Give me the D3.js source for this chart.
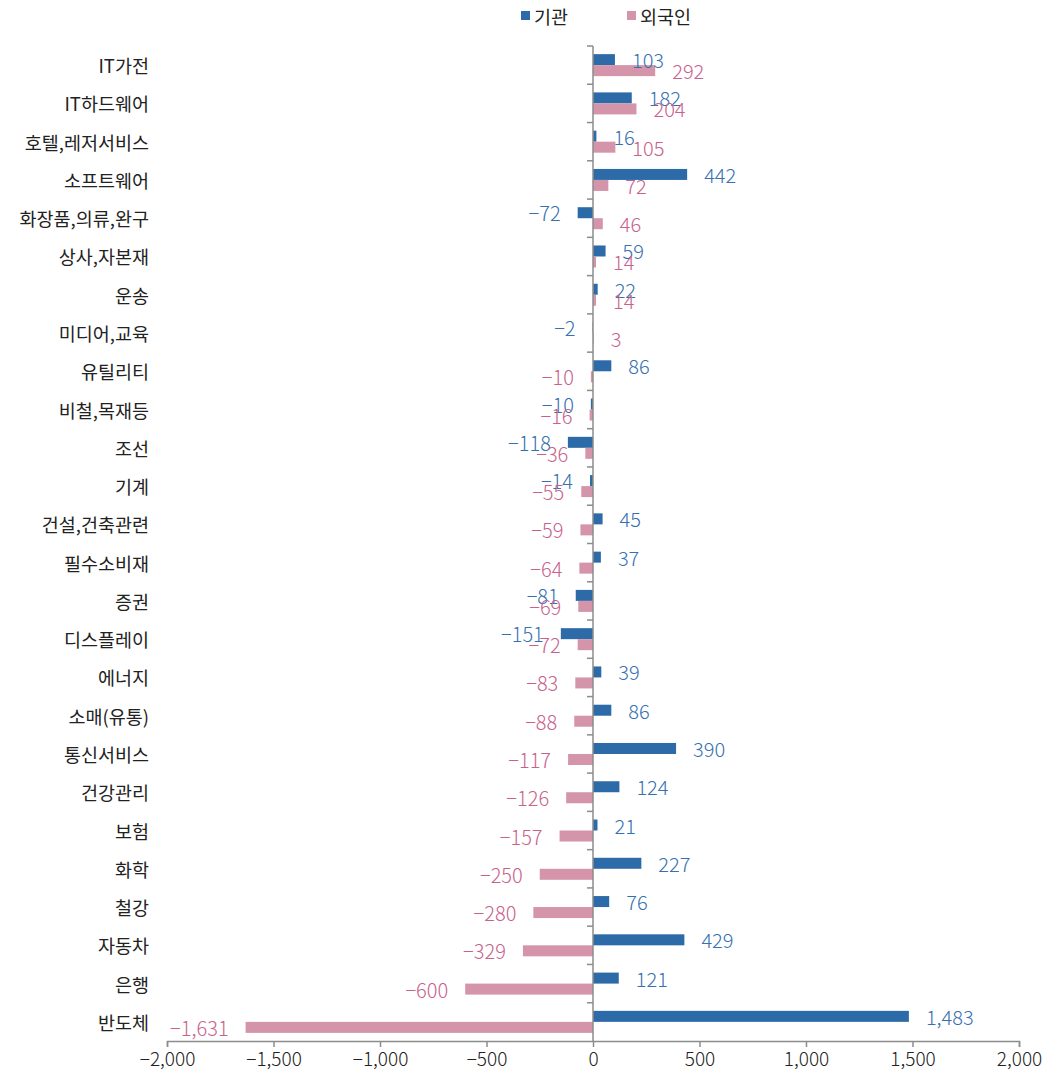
<!DOCTYPE html>
<html>
<head>
<meta charset="utf-8">
<script src="https://cdn.jsdelivr.net/npm/d3@7"></script>
<style>
  body { margin: 0; background: #fff; }
  svg text { font-family: "Noto Sans CJK KR", "Noto Sans", sans-serif; }
</style>
</head>
<body>
<div id="chart"></div>
<script>
// 업종별 순매수 - 기관 / 외국인
const categories = ['IT가전', 'IT하드웨어', '호텔,레저서비스', '소프트웨어', '화장품,의류,완구', '상사,자본재', '운송',
  '미디어,교육', '유틸리티', '비철,목재등', '조선', '기계', '건설,건축관련', '필수소비재', '증권', '디스플레이',
  '에너지', '소매(유통)', '통신서비스', '건강관리', '보험', '화학', '철강', '자동차', '은행', '반도체'];
const institution = [103, 182, 16, 442, -72, 59, 22, -2, 86, -10, -118, -14, 45, 37, -81, -151,
  39, 86, 390, 124, 21, 227, 76, 429, 121, 1483];
const foreign = [292, 204, 105, 72, 46, 14, 14, 3, -10, -16, -36, -55, -59, -64, -69, -72,
  -83, -88, -117, -126, -157, -250, -280, -329, -600, -1631];
const xTicks = [-2000, -1500, -1000, -500, 0, 500, 1000, 1500, 2000];

const series = [
  { name: '기관', values: institution, bar: '#2C6BA8', text: '#3570B0' },
  { name: '외국인', values: foreign, bar: '#D494A9', text: '#C8628C' }
];

const W = 1063, H = 1080;
const margin = { top: 46, right: 44, bottom: 39, left: 167 };
const width = W - margin.left - margin.right;
const height = H - margin.top - margin.bottom;

const svg = d3.select('#chart').append('svg')
  .attr('width', W).attr('height', H);
const g = svg.append('g').attr('transform', `translate(${margin.left},${margin.top})`);

const x = d3.scaleLinear().domain([-2000, 2000]).range([0, width]);
const y = d3.scaleBand().domain(categories).range([0, height]).paddingInner(0.425).paddingOuter(0.2125);
const sub = d3.scaleBand().domain([0, 1]).range([0, y.bandwidth()]);
const fmt = d3.format(',');

// 막대
series.forEach((s, si) => {
  g.selectAll('.bar' + si)
    .data(categories)
    .join('rect')
    .attr('class', 'bar' + si)
    .attr('x', (d, i) => x(Math.min(0, s.values[i])))
    .attr('y', d => y(d) + sub(si))
    .attr('width', (d, i) => Math.abs(x(s.values[i]) - x(0)))
    .attr('height', sub.bandwidth())
    .attr('fill', s.bar);
});

// 0 기준선 + 카테고리 눈금
const step = y.step();
g.append('line')
  .attr('x1', x(0)).attr('x2', x(0))
  .attr('y1', 0).attr('y2', height)
  .attr('stroke', '#8c8c8c').attr('stroke-width', 1.5);
g.selectAll('.ytick')
  .data(d3.range(categories.length))
  .join('line')
  .attr('class', 'ytick')
  .attr('x1', x(0) - 6).attr('x2', x(0))
  .attr('y1', i => i * step).attr('y2', i => i * step)
  .attr('stroke', '#8c8c8c').attr('stroke-width', 1.5);

// 카테고리 라벨
g.selectAll('.cat')
  .data(categories)
  .join('text')
  .attr('class', 'cat')
  .attr('x', -18)
  .attr('y', d => y(d) + y.bandwidth() / 2)
  .attr('text-anchor', 'end')
  .attr('dominant-baseline', 'central')
  .attr('font-size', '18.5px')
  .attr('fill', '#222')
  .text(d => d);

// 값 라벨
series.forEach((s, si) => {
  g.selectAll('.val' + si)
    .data(categories)
    .join('text')
    .attr('class', 'val' + si)
    .attr('x', (d, i) => x(s.values[i]) + (s.values[i] < 0 ? -17 : 17))
    .attr('y', d => y(d) + sub(si) + sub.bandwidth() / 2)
    .attr('text-anchor', (d, i) => s.values[i] < 0 ? 'end' : 'start')
    .attr('dominant-baseline', 'central')
    .attr('font-size', '20px')
    .attr('font-weight', 300)
    .attr('fill', s.text)
    .text((d, i) => fmt(s.values[i]));
});

// x축
const xAxis = g.append('g')
  .attr('transform', `translate(0,${height})`)
  .call(d3.axisBottom(x).tickValues(xTicks).tickFormat(fmt).tickSize(6).tickPadding(6));
xAxis.select('.domain').attr('stroke', '#8c8c8c').attr('stroke-width', 1.5);
xAxis.selectAll('.tick line').attr('stroke', '#8c8c8c').attr('stroke-width', 1.5);
xAxis.selectAll('.tick text')
  .attr('font-size', '19px')
  .attr('font-weight', 300)
  .attr('fill', '#222')
  .style('font-family', '"Noto Sans CJK KR", sans-serif');

// 범례
const legend = svg.append('g').attr('transform', 'translate(521,15)');
const legendX = [0, 106];
series.forEach((s, si) => {
  const lg = legend.append('g').attr('transform', `translate(${legendX[si]},0)`);
  lg.append('rect').attr('x', 0).attr('y', -4).attr('width', 9).attr('height', 9).attr('fill', s.bar);
  lg.append('text')
    .attr('x', 13).attr('y', 1)
    .attr('dominant-baseline', 'central')
    .attr('font-size', '18.5px')
    .attr('fill', '#222')
    .text(s.name);
});
</script>
</body>
</html>
